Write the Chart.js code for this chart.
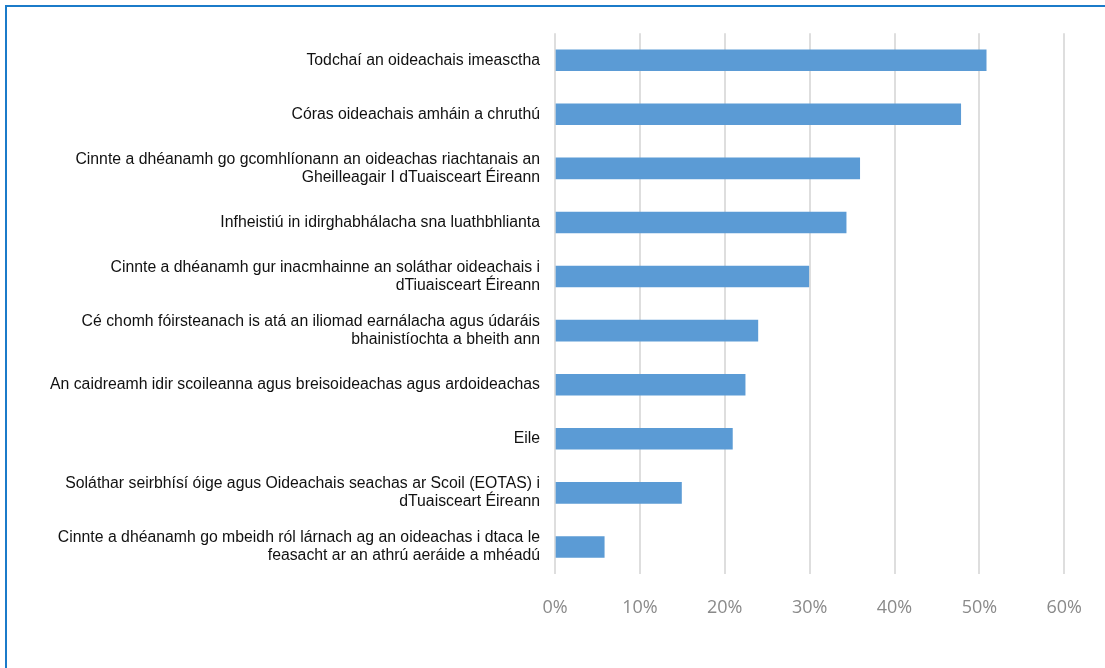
<!DOCTYPE html>
<html>
<head>
<meta charset="utf-8">
<script src="https://cdn.jsdelivr.net/npm/chart.js@4/dist/chart.umd.min.js"></script>
<style>
  html, body { margin: 0; padding: 0; background: #fff; }
  #wrap { position: relative; width: 1105px; height: 668px; }
  #frame { position: absolute; left: 5px; top: 5px; right: 0; bottom: 0; border-top: 2px solid #1b7bc9; border-left: 2px solid #1b7bc9; pointer-events: none; }
</style>
</head>
<body>
<div id="wrap">
  <canvas id="barChart" width="1105" height="668"></canvas>
  <div id="frame"></div>
</div>
<script>
// Categories (multi-line labels as arrays), top to bottom
const categories = [
    ['Todchaí an oideachais imeasctha'],
    ['Córas oideachais amháin a chruthú'],
    ['Cinnte a dhéanamh go gcomhlíonann an oideachas riachtanais an', 'Gheilleagair I dTuaisceart Éireann'],
    ['Infheistiú in idirghabhálacha sna luathbhlianta'],
    ['Cinnte a dhéanamh gur inacmhainne an soláthar oideachais i', 'dTiuaisceart Éireann'],
    ['Cé chomh fóirsteanach is atá an iliomad earnálacha agus údaráis', 'bhainistíochta a bheith ann'],
    ['An caidreamh idir scoileanna agus breisoideachas agus ardoideachas'],
    ['Eile'],
    ['Soláthar seirbhísí óige agus Oideachais seachas ar Scoil (EOTAS) i', 'dTuaisceart Éireann'],
    ['Cinnte a dhéanamh go mbeidh ról lárnach ag an oideachas i dtaca le', 'feasacht ar an athrú aeráide a mhéadú']
];
// Share of responses, percent
const shares = [50.8, 47.8, 35.9, 34.3, 29.9, 23.9, 22.4, 20.9, 14.9, 5.8];
// x axis ticks
const xTicks = [0, 10, 20, 30, 40, 50, 60];

const ctx = document.getElementById('barChart').getContext('2d');
new Chart(ctx, {
    type: 'bar',
    data: {
        labels: categories,
        datasets: [{
            data: shares,
            backgroundColor: '#5b9bd5',
            borderWidth: 0,
            barThickness: 21
        }]
    },
    options: {
        indexAxis: 'y',
        responsive: false,
        animation: false,
        layout: { padding: { top: 30, right: 38, bottom: 0, left: 10 } },
        plugins: { legend: { display: false }, tooltip: { enabled: false } },
        scales: {
            x: {
                min: 0,
                max: 60,
                afterBuildTicks: scale => { scale.ticks = xTicks.map(v => ({ value: v })); },
                afterFit: scale => { scale.height = 94; },
                grid: { color: '#dedede', lineWidth: 2, drawTicks: false },
                border: { display: false },
                ticks: {
                    padding: 23,
                    color: '#8a8a8a',
                    font: { family: '"Open Sans", sans-serif', size: 18 },
                    callback: v => v + '%'
                }
            },
            y: {
                afterFit: scale => { scale.width = 545; },
                grid: { display: false, drawTicks: false },
                border: { display: false },
                ticks: {
                    padding: 15,
                    color: '#111',
                    font: { family: 'Arial, "Liberation Sans", sans-serif', size: 15.8, lineHeight: 1.15 }
                }
            }
        }
    }
});
</script>
</body>
</html>
